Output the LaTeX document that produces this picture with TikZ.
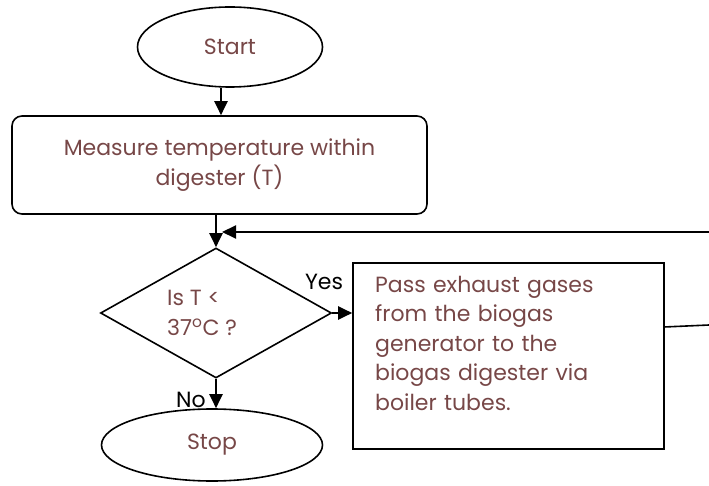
\documentclass[tikz,border=0pt]{standalone}
\usepackage{fontspec}
\setmainfont{Poppins}
\usetikzlibrary{shapes.geometric,arrows.meta}
\definecolor{txt}{HTML}{774747}
\tikzset{
  every node/.style={font=\fontsize{22}{29.5}\selectfont},
  term/.style={draw, ellipse, line width=1.6pt, text=txt, inner sep=0pt},
  procbox/.style={draw, line width=1.6pt, text=txt, inner sep=0pt},
  conn/.style={line width=2pt, -{Triangle[length=14pt,width=13pt]}},
  plain/.style={line width=1.6pt},
  lbl/.style={text=black, inner sep=0pt}
}
\begin{document}
\begin{tikzpicture}[x=1pt,y=-1pt]
\useasboundingbox (0,0) rectangle (709,486);
\node[term, minimum width=185pt, minimum height=80pt] (start) at (230,47) {Start};
\node[procbox, rounded corners=10pt, minimum width=415pt, minimum height=98pt, align=center] (measure) at (219.5,165) {Measure temperature within\\digester (T)};
\node[draw, diamond, line width=1.6pt, minimum width=231pt, minimum height=130pt, inner sep=0pt] (dec) at (216,313) {};
\node[text=txt, anchor=west, align=left, inner sep=0pt] (dectext) at (167,313) {Is T <\\37\textsuperscript{o}C ?};
\node[procbox, minimum width=311pt, minimum height=186pt] (proc) at (508.5,356) {};
\node[text=txt, anchor=north west, align=left, inner sep=0pt, text width=290pt] (proctext) at (375,276) {Pass exhaust gases\\from the biogas\\generator to the\\biogas digester via\\boiler tubes.};
\node[term, minimum width=221pt, minimum height=72pt] (stop) at (212,445) {Stop};
\node[lbl] (yes) at (324,282) {Yes};
\node[lbl] (no) at (191,400) {No};
\coordinate (join) at (216,232);
\coordinate (fbR) at (709,232);
\coordinate (pr) at (664,327);
\coordinate (pr2) at (709,325);
\draw[conn] (start.south -| 221,0) -- (measure.north -| 221,0);
\draw[conn] (measure.south -| join) -- (dec.north);
\draw[conn] (fbR) -- ([xshift=6pt]join);
\draw[conn] (dec.east) -- (proc.west |- dec.east);
\draw[conn] (dec.south) -- (stop.north -| dec.south);
\draw[plain] (pr) -- (pr2);
\end{tikzpicture}
\end{document}
